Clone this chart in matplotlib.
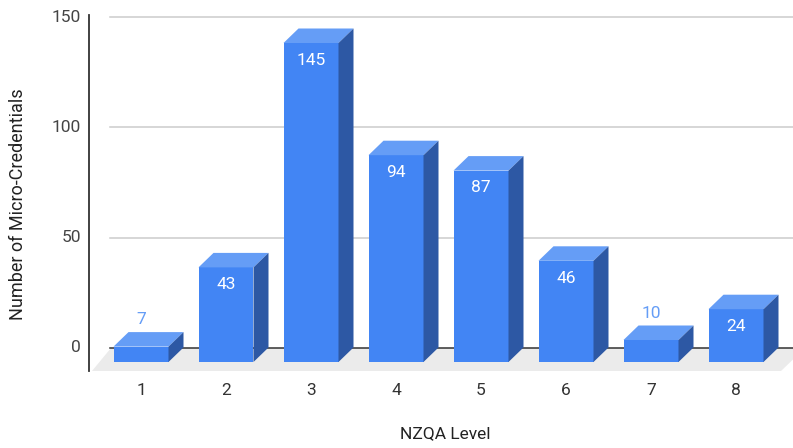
import matplotlib
matplotlib.use('Agg')
import matplotlib.pyplot as plt
from matplotlib.patches import Polygon

plt.rcParams['font.family'] = ['Roboto', 'DejaVu Sans']

levels = [1, 2, 3, 4, 5, 6, 7, 8]
counts = [7, 43, 145, 94, 87, 46, 10, 24]
y_ticks = [0, 50, 100, 150]

FRONT = '#4285f4'
TOP = '#659df6'
SIDE = '#2d58a4'
FS = 12.5

# pixel scales of the picture
px_x = 85.0
px_y = 2.2
x0_px = 141.0
y0_px = 362.0
W, H = 793, 448


def x_of(px):
    return 1 + (px - x0_px) / px_x


def y_of(px):
    return (y0_px - px) / px_y


bar_w = 55 / px_x
dx = 15 / px_x
dy = 14.5 / px_y

fig = plt.figure(figsize=(W / 100, H / 100), dpi=100)
ax = fig.add_axes([0, 0, 1, 1])
ax.set_xlim(x_of(0), x_of(W))
ax.set_ylim(y_of(H), y_of(0))
ax.axis('off')

# floor
ax.add_patch(Polygon([(x_of(92), y_of(371)), (x_of(111), y_of(348)), (x_of(805), y_of(348)),
                      (x_of(781), y_of(371))], fc='#ebebeb', ec='none', zorder=1))

# gridlines on the back wall
for v in y_ticks[1:]:
    ax.plot([x_of(110), x_of(W)], [v + dy, v + dy], color='#cccccc', lw=1.1, zorder=1.5)
ax.plot([x_of(110), x_of(W)], [dy, dy], color='#333333', lw=1.1, zorder=2)
ax.plot([x_of(89), x_of(89)], [y_of(371), y_of(15)], color='#333333', lw=1.3, zorder=2)

for v in y_ticks:
    ax.text(x_of(81), v + dy, str(v), ha='right', va='center', fontsize=FS, color='#444444')

# bars, drawn left to right
ax.bar(levels, counts, width=bar_w, color=FRONT, zorder=3)
for lv, c in zip(levels, counts):
    l, r = lv - bar_w / 2, lv + bar_w / 2
    ax.add_patch(Polygon([(l, c), (r, c), (r + dx, c + dy), (l + dx, c + dy)], fc=TOP, ec='none', zorder=3))
    ax.add_patch(Polygon([(r, 0), (r + dx, dy), (r + dx, c + dy), (r, c)], fc=SIDE, ec='none', zorder=3))
    if c < 20:
        ax.annotate(str(c), (lv, c + dy), xytext=(0, 9), textcoords='offset points',
                    ha='center', va='center', fontsize=FS, color='#659df6', zorder=4)
    else:
        ax.annotate(str(c), (lv, c), xytext=(0, -12.5), textcoords='offset points',
                    ha='center', va='center', fontsize=FS, color='white', zorder=4)

for lv in levels:
    ax.text(lv, y_of(390), str(lv), ha='center', va='center', fontsize=FS, color='#333333')

ax.text(x_of(445), y_of(434), 'NZQA Level', ha='center', va='center', fontsize=FS, color='#222222')
ax.text(x_of(18), y_of(204), 'Number of Micro-Credentials', rotation=90, ha='center', va='center',
        fontsize=13, color='#222222')

fig.savefig('out.png', dpi=100)
